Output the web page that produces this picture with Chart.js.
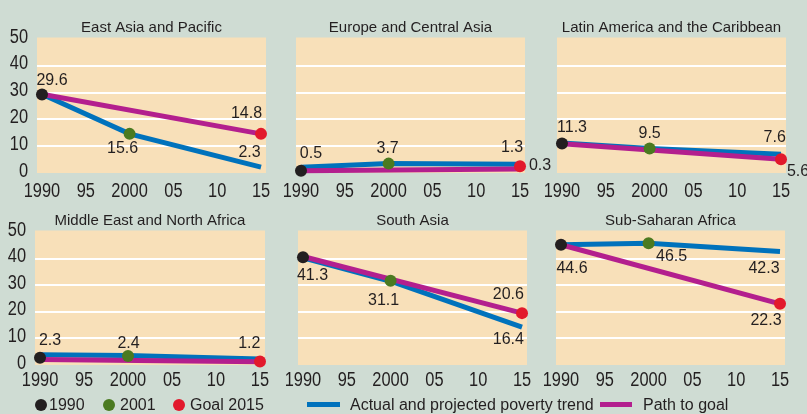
<!DOCTYPE html>
<html>
<head>
<meta charset="utf-8">
<script src="https://cdn.jsdelivr.net/npm/chart.js@4.4.1/dist/chart.umd.min.js"></script>
<style>
  html, body { margin: 0; padding: 0; }
  body {
    width: 807px;
    height: 414px;
    overflow: hidden;
    position: relative;
    background: #cfdcd3;
    font-family: "Liberation Sans", Arial, sans-serif;
    color: #231f20;
  }
  canvas { position: absolute; }
  .lg { position: absolute; font-size: 16px; line-height: 20px; top: 395px; white-space: nowrap; }
  .dot { position: absolute; width: 12px; height: 12px; border-radius: 50%; top: 399px; }
  .bar { position: absolute; height: 5px; top: 402px; }
</style>
</head>
<body>
<canvas id="c0"></canvas>
<canvas id="c1"></canvas>
<canvas id="c2"></canvas>
<canvas id="c3"></canvas>
<canvas id="c4"></canvas>
<canvas id="c5"></canvas>

<span class="dot" style="left:35px;background:#231f20"></span>
<span class="lg" style="left:49px">1990</span>
<span class="dot" style="left:103px;background:#4b7a20"></span>
<span class="lg" style="left:120px">2001</span>
<span class="dot" style="left:173px;background:#e2192c"></span>
<span class="lg" style="left:190px">Goal 2015</span>
<span class="bar" style="left:307px;width:33px;background:#0072bc"></span>
<span class="lg" style="left:350px">Actual and projected poverty trend</span>
<span class="bar" style="left:600px;width:32px;background:#b31f8e"></span>
<span class="lg" style="left:643px">Path to goal</span>

<script>
const regions = [
  "East Asia and Pacific",
  "Europe and Central Asia",
  "Latin America and the Caribbean",
  "Middle East and North Africa",
  "South Asia",
  "Sub-Saharan Africa",
];

// x positions of the series
const trendYears = [1990, 2000, 2015];
const pathYears = [1990, 2015];
const dotYears = [1990, 2000, 2015];

// actual and projected poverty trend (blue), as drawn
const trendValues = [
  [29.4, 14.6, 2.2],
  [2.1, 3.5, 3.3],
  [11.2, 9.1, 7.0],
  [3.9, 3.6, 2.3],
  [40.3, 31.5, 14.2],
  [45.2, 45.8, 42.7],
];

// path to goal (magenta)
const pathValues = [
  [29.4, 14.6],
  [0.8, 1.5],
  [10.9, 5.1],
  [2.1, 1.2],
  [40.8, 19.5],
  [45.2, 23.0],
];

// 1990, 2001 and goal 2015 markers
const dotValues = [
  [29.3, 14.6, 14.6],
  [0.8, 3.5, 2.5],
  [11.0, 9.1, 5.1],
  [2.7, 3.4, 1.3],
  [40.5, 31.7, 19.5],
  [45.2, 45.8, 23.0],
];

const labelTexts = [
  ["29.6", "15.6", "14.8", "2.3"],
  ["0.5", "3.7", "1.3", "0.3"],
  ["11.3", "9.5", "7.6", "5.6"],
  ["2.3", "2.4", "1.2"],
  ["41.3", "31.1", "20.6", "16.4"],
  ["44.6", "46.5", "42.3", "22.3"],
];

const xTickYears = [1990, 1995, 2000, 2005, 2010, 2015];
const xTickLabels = ["1990", "95", "2000", "05", "10", "15"];
const yTicks = [0, 10, 20, 30, 40, 50];

// layout: plot rectangles on the page
const plotBoxes = [
  { l: 37, r: 266, t: 39, b: 173 },
  { l: 296, r: 525, t: 39, b: 173 },
  { l: 557, r: 786, t: 39, b: 173 },
  { l: 35, r: 265, t: 232, b: 365 },
  { l: 298, r: 527, t: 232, b: 365 },
  { l: 556, r: 785, t: 232, b: 365 },
];

// where each value label sits: anchor point and pixel offset of the text centre
const labelPlacement = [
  [["dot", 0, 10, -14], ["dot", 1, -7, 14.5], ["dot", 2, -14.5, -20], ["trend", 2, -11.5, -14.5]],
  [["dot", 0, 10, -17.7], ["dot", 1, -1, -15], ["trend", 2, -8, -17], ["dot", 2, 20, -1]],
  [["dot", 0, 10, -16], ["dot", 1, 0, -15], ["trend", 2, -6.3, -16.5], ["dot", 2, 17, 12]],
  [["dot", 0, 10, -17.6], ["dot", 1, 0.5, -12.7], ["dot", 2, -10.7, -18]],
  [["dot", 0, 9.5, 18.3], ["dot", 1, -7, 20], ["dot", 2, -13.7, -18.7], ["trend", 2, -13.7, 12.8]],
  [["dot", 0, 11, 23.6], ["dot", 1, 23, 13], ["trend", 2, -16, 17], ["dot", 2, -14, 16.4]],
];

const PAD_LEFT = 40;
const PAD_TOP = 38;
const PAD_RIGHT = 30;
const PAD_BOTTOM = 32;

const colors = {
  plotBg: "#f8e0b9",
  trend: "#0072bc",
  path: "#b31f8e",
  dots: ["#231f20", "#4b7a20", "#e2192c"],
  text: "#231f20",
};

// axis numbers in the original are a condensed face; no narrow font is installed,
// so tick text (the only 20px text) is squeezed horizontally when drawn
const tickFont = { family: "'Liberation Sans', Arial, sans-serif", size: 20 };
const TICK_SQUEEZE = 0.82;

function condenseTickText(ctx) {
  const fill = ctx.fillText;
  ctx.fillText = function (text, x, y, maxWidth) {
    if (this.font.includes("20px")) {
      this.save();
      this.translate(x, y);
      this.scale(TICK_SQUEEZE, 1);
      fill.call(this, text, 0, 0);
      this.restore();
    } else {
      fill.call(this, text, x, y, maxWidth);
    }
  };
}

const panelDecor = {
  id: "panelDecor",
  beforeDraw(chart) {
    const a = chart.chartArea;
    const ctx = chart.ctx;
    ctx.save();
    ctx.fillStyle = colors.plotBg;
    ctx.fillRect(a.left, a.top - 1.5, a.right - a.left, a.bottom - a.top + 1.5);
    ctx.fillStyle = colors.text;
    ctx.font = "15px 'Liberation Sans', Arial, sans-serif";
    ctx.textAlign = "center";
    ctx.textBaseline = "alphabetic";
    ctx.fillText(chart.options.plugins.panelDecor.title, (a.left + a.right) / 2, a.top - 7.5);
    ctx.restore();
  },
  afterDatasetsDraw(chart) {
    const opts = chart.options.plugins.panelDecor;
    const xs = chart.scales.x;
    const ys = chart.scales.y;
    const ctx = chart.ctx;
    ctx.save();
    ctx.fillStyle = colors.text;
    ctx.font = "16px 'Liberation Sans', Arial, sans-serif";
    ctx.textAlign = "center";
    ctx.textBaseline = "middle";
    opts.texts.forEach((text, i) => {
      const [kind, idx, dx, dy] = opts.placement[i];
      const px = kind === "dot" ? xs.getPixelForValue(dotYears[idx]) : xs.getPixelForValue(trendYears[idx]);
      const py = kind === "dot" ? ys.getPixelForValue(opts.dots[idx]) : ys.getPixelForValue(opts.trend[idx]);
      ctx.fillText(text, px + dx, py + dy);
    });
    ctx.restore();
  },
};

function buildChart(i) {
  const box = plotBoxes[i];
  const canvas = document.getElementById(`c${i}`);
  const w = box.r - box.l + PAD_LEFT + PAD_RIGHT;
  const h = box.b - box.t + PAD_TOP + PAD_BOTTOM;
  canvas.width = w;
  canvas.height = h;
  canvas.style.width = `${w}px`;
  canvas.style.height = `${h}px`;
  canvas.style.left = `${box.l - PAD_LEFT}px`;
  canvas.style.top = `${box.t - PAD_TOP}px`;
  condenseTickText(canvas.getContext("2d"));

  const showY = i === 0 || i === 3;
  const topRow = i < 3;

  return new Chart(canvas, {
    type: "line",
    data: {
      datasets: [
        {
          type: "scatter",
          data: dotYears.map((x, k) => ({ x, y: dotValues[i][k] })),
          pointRadius: 6,
          pointHoverRadius: 6,
          pointBackgroundColor: colors.dots,
          pointBorderWidth: 0,
          showLine: false,
          clip: false,
          order: 0,
        },
        {
          data: pathYears.map((x, k) => ({ x, y: pathValues[i][k] })),
          borderColor: colors.path,
          borderWidth: 5,
          pointRadius: 0,
          tension: 0,
          clip: false,
          order: 1,
        },
        {
          data: trendYears.map((x, k) => ({ x, y: trendValues[i][k] })),
          borderColor: colors.trend,
          borderWidth: 5,
          pointRadius: 0,
          tension: 0,
          clip: false,
          order: 2,
        },
      ],
    },
    options: {
      responsive: false,
      animation: false,
      devicePixelRatio: 1,
      layout: { padding: { left: 0, top: PAD_TOP, right: PAD_RIGHT, bottom: 0 } },
      plugins: {
        legend: { display: false },
        tooltip: { enabled: false },
        panelDecor: {
          title: regions[i],
          texts: labelTexts[i],
          placement: labelPlacement[i],
          dots: dotValues[i],
          trend: trendValues[i],
        },
      },
      scales: {
        x: {
          type: "linear",
          position: "bottom",
          min: 1989.43,
          max: 2015.57,
          afterFit: (s) => { s.height = PAD_BOTTOM; },
          afterBuildTicks: (s) => { s.ticks = xTickYears.map((v) => ({ value: v })); },
          grid: { display: false, drawTicks: false },
          border: { display: false },
          ticks: {
            autoSkip: false,
            maxRotation: 0,
            padding: topRow ? 6 : 3,
            color: colors.text,
            font: tickFont,
            callback: (v) => xTickLabels[xTickYears.indexOf(v)],
          },
        },
        y: {
          min: 0,
          max: 50,
          afterFit: (s) => { s.width = PAD_LEFT; },
          afterBuildTicks: (s) => { s.ticks = yTicks.map((v) => ({ value: v })); },
          grid: {
            drawTicks: false,
            lineWidth: 2,
            color: (c) => (c.tick && c.tick.value > 0 && c.tick.value < 50 ? "#ffffff" : "rgba(0,0,0,0)"),
          },
          border: { display: false },
          ticks: {
            display: showY,
            autoSkip: false,
            padding: 9,
            labelOffset: -2,
            color: colors.text,
            font: tickFont,
          },
        },
      },
    },
    plugins: [panelDecor],
  });
}

regions.forEach((_, i) => buildChart(i));
</script>
</body>
</html>
